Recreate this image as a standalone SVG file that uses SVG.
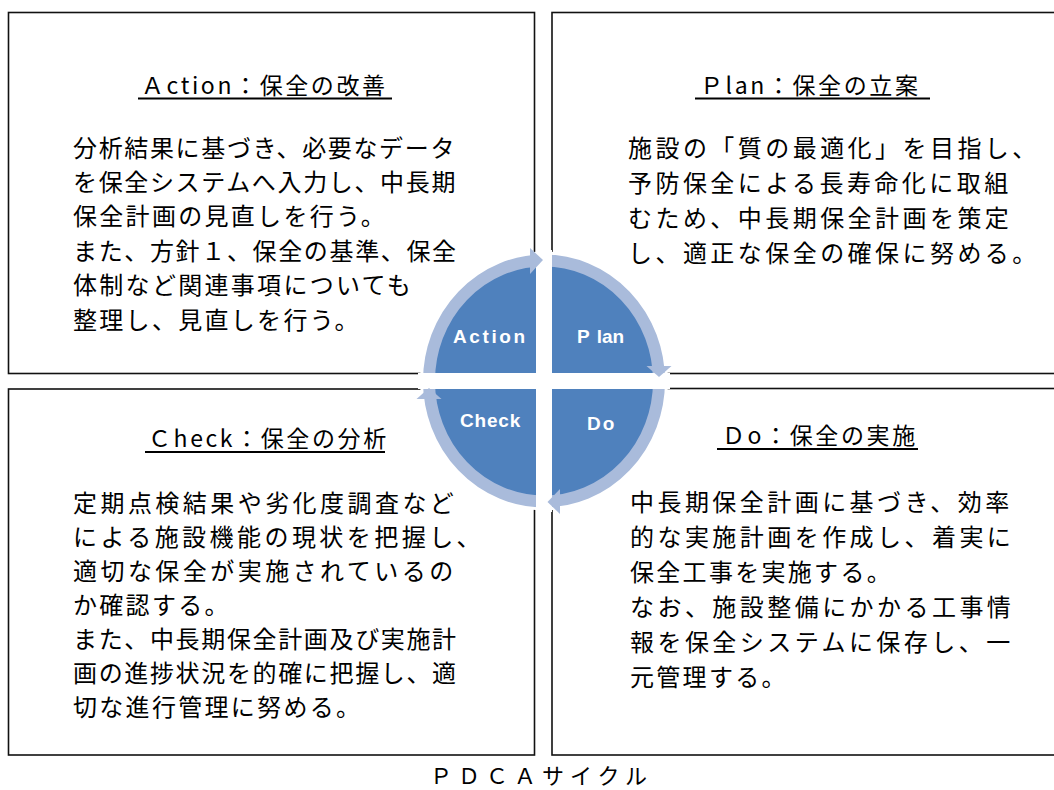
<svg xmlns="http://www.w3.org/2000/svg" width="1054" height="790" viewBox="0 0 1054 790">
<style>
.box{fill:#fff;stroke:#111;stroke-width:1.6}
.t{font-family:"Noto Sans CJK JP","Noto Sans CJK SC",sans-serif;font-size:24px;fill:#000}
.n{letter-spacing:2.3px}
.w{letter-spacing:3.45px}
.c{letter-spacing:1.65px}
.ttl{font-family:"Noto Sans CJK JP",sans-serif;font-size:23px;letter-spacing:2.6px;fill:#000}
.ul{stroke:#000;stroke-width:2.2}
.lbl{font-family:"Liberation Sans",Arial,sans-serif;font-size:19px;font-weight:bold;fill:#fff}
.ring{fill:#A9BBDB}
</style>
<g id="action-box">
<rect class="box" x="8.5" y="12.5" width="526" height="361"/>
<text class="ttl" x="141" y="94">Ａction：保全の改善</text>
<line class="ul" x1="138" y1="98.5" x2="392" y2="98.5"/>
<text class="t c" x="73" y="156.5">分析結果に基づき、必要なデータ</text>
<text class="t c" x="73" y="190.9">を保全システムへ入力し、中長期</text>
<text class="t n" x="73" y="225.3">保全計画の見直しを行う。</text>
<text class="t c" x="73" y="259.7">また、方針１、保全の基準、保全</text>
<text class="t n" x="73" y="294.1">体制など関連事項についても</text>
<text class="t n" x="73" y="328.5">整理し、見直しを行う。</text>
</g>
<g id="plan-box">
<rect class="box" x="552" y="12.5" width="520" height="361"/>
<text class="ttl" x="700" y="94">Ｐlan：保全の立案</text>
<line class="ul" x1="695" y1="98.5" x2="930" y2="98.5"/>
<text class="t w" x="628" y="156.5">施設の「質の最適化」を目指し、</text>
<text class="t w" x="628" y="191.5">予防保全による長寿命化に取組</text>
<text class="t w" x="628" y="226.5">むため、中長期保全計画を策定</text>
<text class="t w" x="628" y="261.5">し、適正な保全の確保に努める。</text>
</g>
<g id="check-box">
<rect class="box" x="8.5" y="389" width="526" height="366"/>
<text class="ttl" x="148" y="447">Ｃheck：保全の分析</text>
<line class="ul" x1="145" y1="452" x2="385" y2="452"/>
<text class="t w" x="73" y="511.5">定期点検結果や劣化度調査など</text>
<text class="t w" x="73" y="545.6">による施設機能の現状を把握し、</text>
<text class="t w" x="73" y="579.7">適切な保全が実施されているの</text>
<text class="t n" x="73" y="613.8">か確認する。</text>
<text class="t c" x="73" y="647.9">また、中長期保全計画及び実施計</text>
<text class="t c" x="73" y="682">画の進捗状況を的確に把握し、適</text>
<text class="t n" x="73" y="716.1">切な進行管理に努める。</text>
</g>
<g id="do-box">
<rect class="box" x="552" y="388.5" width="520" height="366.5"/>
<text class="ttl" x="722" y="444">Ｄo：保全の実施</text>
<line class="ul" x1="717" y1="449" x2="918" y2="449"/>
<text class="t w" x="630" y="511">中長期保全計画に基づき、効率</text>
<text class="t w" x="630" y="546">的な実施計画を作成し、着実に</text>
<text class="t n" x="630" y="581">保全工事を実施する。</text>
<text class="t w" x="630" y="616">なお、施設整備にかかる工事情</text>
<text class="t w" x="630" y="651">報を保全システムに保存し、一</text>
<text class="t n" x="630" y="686">元管理する。</text>
</g>
<g id="cycle">
<ellipse cx="544" cy="381" rx="124" ry="129.5" fill="#fff"/>
<ellipse cx="544" cy="381" rx="115" ry="120.5" fill="#4F81BD" stroke="#A9BBDB" stroke-width="12"/>
<rect x="536" y="250" width="16" height="262" fill="#fff"/>
<rect x="418" y="373" width="252" height="16" fill="#fff"/>
</g>
<g id="connectors">
<polygon class="ring" points="530,248 530,274 543,260"/>
<polygon class="ring" points="646.5,366 671.5,366 659,377"/>
<polygon class="ring" points="560,489 560,514 547.5,502"/>
<polygon class="ring" points="416.5,399 441.5,399 429,388"/>
</g>
<g id="labels">
<text class="lbl" x="453" y="343" style="letter-spacing:2.6px">Action</text>
<text class="lbl" x="577" y="343">P<tspan dx="7">lan</tspan></text>
<text class="lbl" x="460" y="427" style="letter-spacing:0.8px">Check</text>
<text class="lbl" x="587" y="429.5" style="letter-spacing:2px">Do</text>
</g>
<text id="caption" x="430" y="784" style="font-family:'Noto Sans CJK JP',sans-serif;font-size:22px;letter-spacing:6px;fill:#000">ＰＤＣＡサイクル</text>
</svg>
